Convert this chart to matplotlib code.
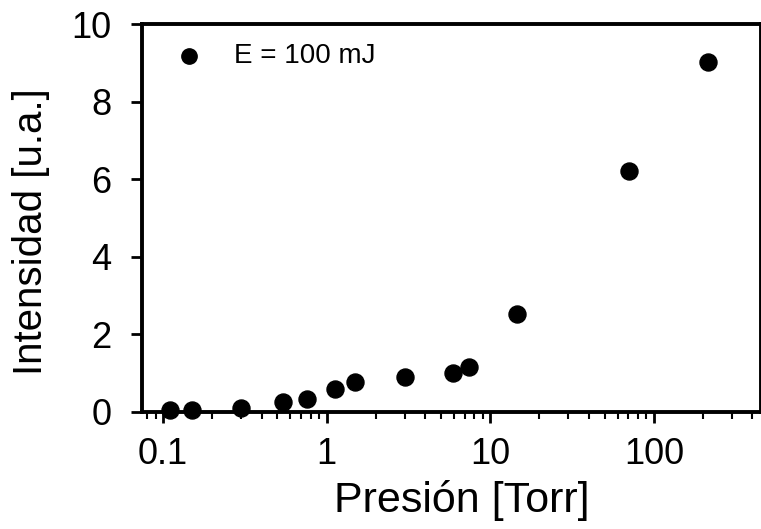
import matplotlib
matplotlib.use('Agg')
from matplotlib import pyplot as plt
from matplotlib.ticker import LogLocator, FixedLocator, FixedFormatter

plt.rcParams['font.family'] = ['Liberation Sans', 'DejaVu Sans']

presion = [0.11, 0.15, 0.3, 0.54, 0.76, 1.13, 1.5, 3.0, 5.9, 7.4, 14.5, 71, 215]
intensidad = [0.05, 0.05, 0.1, 0.25, 0.33, 0.59, 0.77, 0.9, 1.0, 1.16, 2.52, 6.22, 9.02]
xticks = [0.1, 1, 10, 100]
xticklabels = ['0.1', '1', '10', '100']
yticks = [0, 2, 4, 6, 8, 10]

fig = plt.figure(figsize=(7.61, 5.29), dpi=100)
ax = fig.add_axes([0.1866, 0.2212, 0.8134, 0.7334])

ax.scatter(presion, intensidad, s=150, c='black', marker='o', label='E = 100 mJ',
           zorder=3, clip_on=False)

ax.set_xscale('log')
ax.set_xlim(0.0744, 452)
ax.set_ylim(0, 10)
ax.xaxis.set_major_locator(FixedLocator(xticks))
ax.xaxis.set_major_formatter(FixedFormatter(xticklabels))
ax.xaxis.set_minor_locator(LogLocator(base=10, subs=range(2, 10)))
ax.set_yticks(yticks)

for s in ax.spines.values():
    s.set_linewidth(2.8)
ax.tick_params(axis='both', which='major', direction='out', length=8, width=2,
               labelsize=26)
ax.tick_params(axis='y', which='major', pad=14)
ax.tick_params(axis='x', which='major', pad=10)
ax.tick_params(axis='x', which='minor', direction='out', length=5, width=1.5)

ax.set_xlabel('Presión [Torr]', fontsize=31)
ax.set_ylabel('Intensidad [u.a.]', fontsize=29)
ax.xaxis.set_label_coords(0.516, -0.176)
ax.yaxis.set_label_coords(-0.149, 0.466)

ax.legend(loc='upper left', frameon=False, fontsize=20, handletextpad=0.6,
          borderaxespad=0.3, scatterpoints=1, markerscale=0.9)

fig.savefig('out.png', dpi=100)
